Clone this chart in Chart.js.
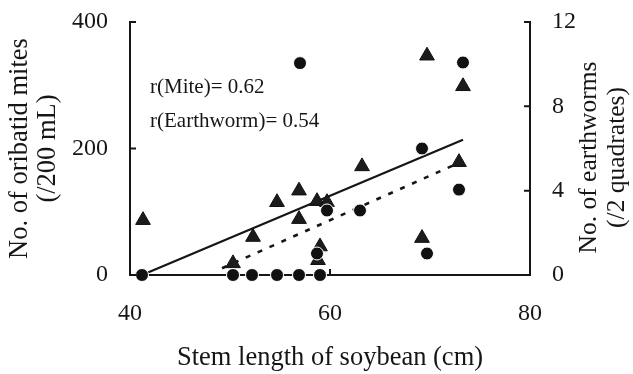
<!DOCTYPE html>
<html>
<head>
<meta charset="utf-8">
<script src="https://cdn.jsdelivr.net/npm/chart.js@4"></script>
<style>
  html, body { margin: 0; padding: 0; background: #fff; }
  #wrap { width: 633px; height: 374px; }
</style>
</head>
<body>
<div id="wrap"><canvas id="graph"></canvas></div>
<script>
// Stem length (cm) and oribatid mites (/200 mL) - circles, left axis
var stemMite = [41.2, 57.0, 73.3, 69.2, 72.9, 69.7, 59.7, 63.0, 58.7, 50.3, 52.2, 54.7, 56.9, 59.0];
var mites = [0, 335, 336, 200, 135, 34, 102, 102, 34, 0, 0, 0, 0, 0];

// Stem length (cm) and earthworms (/2 quadrates) - triangles, right axis
var stemWorm = [41.3, 50.3, 52.3, 54.7, 56.9, 56.9, 58.7, 59.7, 59.0, 58.8, 63.2, 69.7, 73.3, 72.9, 69.2];
var worms = [2.6, 0.55, 1.8, 3.45, 4.0, 2.65, 3.5, 3.45, 1.35, 0.7, 5.15, 10.4, 8.95, 5.35, 1.75];

// regression lines, end points
var miteFitX = [41.2, 73.3];
var miteFitY = [0, 214];
var wormFitX = [49.2, 72.8];
var wormFitY = [0.32, 5.3];

var xTicks = [40, 60, 80];
var miteTicks = [0, 200, 400];
var wormTicks = [0, 4, 8, 12];

var notes = ["r(Mite)= 0.62", "r(Earthworm)= 0.54"];

var serif = "'Liberation Serif', 'Times New Roman', serif";
var ink = '#161616';

function pts(xs, ys) {
    var out = [];
    for (let i = 0; i < xs.length; i++) out.push({x: xs[i], y: ys[i]});
    return out;
}

// ticks point into the plot, so draw them by hand from the scales
var extras = {
    id: 'extras',
    afterDatasetsDraw(chart) {
        var ctx = chart.ctx;
        var a = chart.chartArea;
        var sx = chart.scales.x, sy = chart.scales.y, sy2 = chart.scales.y2;
        ctx.save();
        ctx.strokeStyle = ink;
        ctx.lineWidth = 2;
        ctx.beginPath();
        miteTicks.forEach(function (v) {
            var p = sy.getPixelForValue(v);
            ctx.moveTo(a.left, p); ctx.lineTo(a.left + 6, p);
        });
        wormTicks.forEach(function (v) {
            var p = sy2.getPixelForValue(v);
            ctx.moveTo(a.right, p); ctx.lineTo(a.right - 6, p);
        });
        xTicks.forEach(function (v) {
            var p = sx.getPixelForValue(v);
            ctx.moveTo(p, a.bottom); ctx.lineTo(p, a.bottom - 6);
        });
        ctx.stroke();

        // r values
        ctx.fillStyle = ink;
        ctx.font = '21px ' + serif;
        ctx.textBaseline = 'middle';
        ctx.textAlign = 'left';
        ctx.fillText(notes[0], sx.getPixelForValue(42), sy.getPixelForValue(297));
        ctx.fillText(notes[1], sx.getPixelForValue(42), sy.getPixelForValue(242));

        // right axis title reads bottom to top like the left one
        ctx.font = '25.5px ' + serif;
        ctx.textAlign = 'center';
        var cy = (a.top + a.bottom) / 2 + 9;
        ctx.translate(589, cy);
        ctx.rotate(-Math.PI / 2);
        ctx.fillText('No. of earthworms', 0, 0);
        ctx.fillText('(/2 quadrates)', 0, 28);
        ctx.restore();
    }
};

function fitY(w) {
    return function (s) {
        s.width = w;
        s.paddingTop = 0;
        s.paddingBottom = 0;
    };
}

const ctx = document.getElementById('graph');

new Chart(ctx, {
    type: 'scatter',
    data: {
        datasets: [{
            label: 'Mite',
            data: pts(stemMite, mites),
            yAxisID: 'y',
            pointStyle: 'circle',
            pointRadius: 6.5,
            backgroundColor: '#111',
            borderColor: '#fff',
            borderWidth: 1,
            clip: false
        }, {
            label: 'Earthworm',
            data: pts(stemWorm, worms),
            yAxisID: 'y2',
            pointStyle: 'triangle',
            pointRadius: 8.5,
            backgroundColor: '#1c1c1c',
            borderColor: '#111',
            borderWidth: 1,
            clip: false
        }, {
            type: 'line',
            label: 'Mite fit',
            data: pts(miteFitX, miteFitY),
            yAxisID: 'y',
            borderColor: ink,
            borderWidth: 2.2,
            pointRadius: 0,
            fill: false
        }, {
            type: 'line',
            label: 'Earthworm fit',
            data: pts(wormFitX, wormFitY),
            yAxisID: 'y2',
            borderColor: ink,
            borderWidth: 2.6,
            borderDash: [5, 8],
            pointRadius: 0,
            fill: false
        }]
    },
    options: {
        responsive: true,
        maintainAspectRatio: false,
        animation: false,
        layout: { padding: { top: 22, left: 0, right: 0, bottom: 0 } },
        plugins: {
            legend: { display: false },
            tooltip: { enabled: false }
        },
        scales: {
            x: {
                type: 'linear',
                min: 40, max: 80,
                afterBuildTicks: function (s) { s.ticks = xTicks.map(function (v) { return {value: v}; }); },
                afterFit: function (s) { s.height = 99; s.paddingLeft = 0; s.paddingRight = 0; },
                grid: { display: true, drawOnChartArea: false, drawTicks: false },
                border: { display: true, color: ink, width: 2 },
                ticks: { color: ink, font: { family: serif, size: 24 }, padding: 24, maxRotation: 0 },
                title: {
                    display: true,
                    text: 'Stem length of soybean (cm)',
                    color: ink,
                    font: { family: serif, size: 26.5 },
                    padding: { top: 0, bottom: 0 }
                }
            },
            y: {
                position: 'left',
                min: 0, max: 400,
                afterBuildTicks: function (s) { s.ticks = miteTicks.map(function (v) { return {value: v}; }); },
                afterFit: fitY(130),
                grid: { display: true, drawOnChartArea: false, drawTicks: false },
                border: { display: true, color: ink, width: 2 },
                ticks: { color: ink, font: { family: serif, size: 24 }, padding: 22 },
                title: {
                    display: true,
                    text: ['No. of oribatid mites', '(/200 mL)'],
                    color: ink,
                    font: { family: serif, size: 26.5, lineHeight: 1.05 },
                    padding: { top: 6, bottom: 0 }
                }
            },
            y2: {
                position: 'right',
                min: 0, max: 12,
                afterBuildTicks: function (s) { s.ticks = wormTicks.map(function (v) { return {value: v}; }); },
                afterFit: fitY(103),
                grid: { display: true, drawOnChartArea: false, drawTicks: false },
                border: { display: true, color: ink, width: 2 },
                ticks: { color: ink, font: { family: serif, size: 24 }, padding: 22 }
            }
        }
    },
    plugins: [extras]
});
</script>
</body>
</html>
